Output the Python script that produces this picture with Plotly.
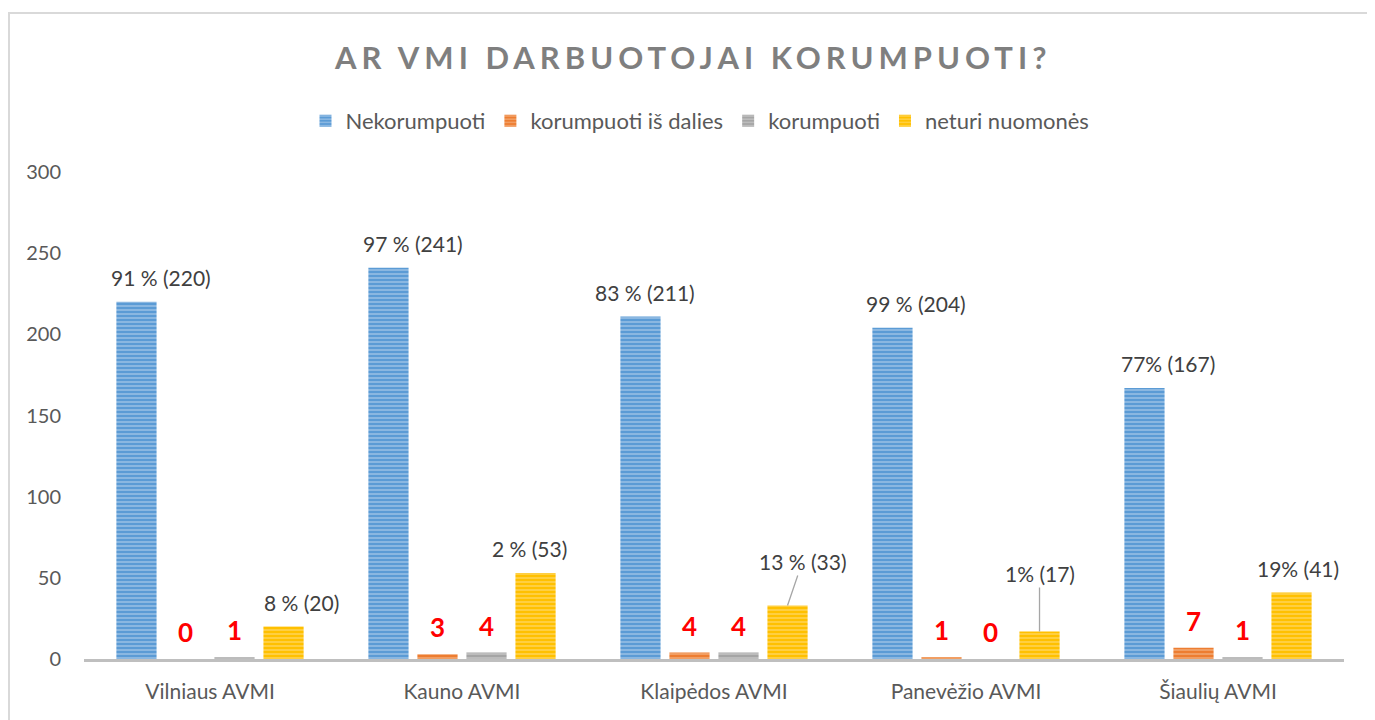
import plotly.graph_objects as go

# Duomenys
CATEGORIES = ["Vilniaus AVMI", "Kauno AVMI", "Klaipėdos AVMI", "Panevėžio AVMI", "Šiaulių AVMI"]
SERIES = ["Nekorumpuoti", "korumpuoti iš dalies", "korumpuoti", "neturi nuomonės"]
NEKORUMPUOTI = [220, 241, 211, 204, 167]
IS_DALIES = [0, 3, 4, 1, 7]
KORUMPUOTI = [1, 4, 4, 0, 1]
NETURI_NUOMONES = [20, 53, 33, 17, 41]
LABELS_BLUE = ["91 % (220)", "97 % (241)", "83 % (211)", "99 % (204)", "77% (167)"]
LABELS_YELLOW = ["8 % (20)", "2 % (53)", "13 % (33)", "1% (17)", "19% (41)"]

VALUES = [NEKORUMPUOTI, IS_DALIES, KORUMPUOTI, NETURI_NUOMONES]
COLORS = ["#5b9bd5", "#ed7d31", "#a5a5a5", "#ffc000"]
STRIPES = ["#cfe2f3", "#f9cfb0", "#e0e0e0", "#ffe8a3"]

FONT = "Lato"
TXT = "#595959"
BARGAP = 0.222

# the page body has an 8px margin, so the figure starts at (8, 8) on screen
OFF = 8
W, H = 1375 - OFF, 720 - OFF
# plot area in screen px (from the original)
L, R, T, B = 84, 1344, 172, 659


def px_x(p):
    return (p - L) / (R - L)


def px_y(p):
    return (B - p) / (B - T)


# label nudges in px (manually moved labels in the original)
BLUE_DX = [25, 25, 5, 24, 24]
YELLOW_DX = [18, -6, None, None, 6]
LEADER = {2: (15, -44), 3: (0, -58)}  # yellow labels with leader lines

fig = go.Figure()

for name, vals, col, stripe in zip(SERIES, VALUES, COLORS, STRIPES):
    fig.add_trace(
        go.Bar(
            name=name,
            x=CATEGORIES,
            y=vals,
            marker=dict(
                color=col,
                line=dict(width=0),
                pattern=dict(shape="-", fgcolor=stripe, bgcolor=col, size=4, solidity=0.4),
            ),
            hoverinfo="skip",
        )
    )

# slot offsets of each series within a category (category units)
group = 1 - BARGAP
slot = group / len(SERIES)
offsets = [-group / 2 + slot * (k + 0.5) for k in range(len(SERIES))]

ann = []
label_font = dict(family=FONT, size=21, color="#404040")
red_font = dict(family=FONT, size=26, color="#ff0000", weight="bold")

for i, cat in enumerate(CATEGORIES):
    # blue
    ann.append(dict(x=i + offsets[0], y=NEKORUMPUOTI[i], xref="x", yref="y", text=LABELS_BLUE[i],
                    showarrow=False, xshift=BLUE_DX[i], yshift=24, font=label_font))
    # red small values
    for k in (1, 2):
        ann.append(dict(x=i + offsets[k], y=VALUES[k][i], xref="x", yref="y", text=str(VALUES[k][i]),
                        showarrow=False, yshift=27, font=red_font))
    # yellow
    if i in LEADER:
        ax, ay = LEADER[i]
        ann.append(dict(x=i + offsets[3], y=NETURI_NUOMONES[i], xref="x", yref="y", text=LABELS_YELLOW[i],
                        showarrow=True, arrowhead=0, arrowwidth=1.3, arrowcolor="#a6a6a6",
                        ax=ax, ay=ay, standoff=0, font=label_font))
    else:
        ann.append(dict(x=i + offsets[3], y=NETURI_NUOMONES[i], xref="x", yref="y", text=LABELS_YELLOW[i],
                        showarrow=False, xshift=YELLOW_DX[i], yshift=24, font=label_font))

# title
ann.append(dict(
    x=px_x(692), y=px_y(57), xref="paper", yref="paper", xanchor="center", yanchor="middle",
    text="<span style='letter-spacing:5px'>AR VMI DARBUOTOJAI KORUMPUOTI?</span>",
    showarrow=False, font=dict(family=FONT, size=31, color="#7f7f7f", weight="bold"),
))

fig.update_layout(
    width=W,
    height=H,
    margin=dict(l=L - OFF, r=W - (R - OFF), t=T - OFF, b=H - (B - OFF), autoexpand=False),
    paper_bgcolor="white",
    plot_bgcolor="white",
    barmode="group",
    bargap=BARGAP,
    bargroupgap=0.18,
    font=dict(family=FONT, size=21, color=TXT),
    showlegend=True,
    legend=dict(
        orientation="h",
        x=px_x(700),
        xanchor="center",
        y=px_y(121),
        yanchor="middle",
        font=dict(family=FONT, size=22, color=TXT),
        itemwidth=30,
        traceorder="normal",
    ),
    xaxis=dict(
        showline=True,
        linecolor="#bfbfbf",
        linewidth=3,
        ticks="",
        showgrid=False,
        tickfont=dict(family=FONT, size=21, color=TXT),
        ticklabelstandoff=12,
        automargin=False,
        fixedrange=True,
    ),
    yaxis=dict(
        range=[0, 300],
        dtick=50,
        showgrid=False,
        zeroline=False,
        showline=False,
        ticks="",
        tickfont=dict(family=FONT, size=20, color=TXT),
        ticklabelstandoff=22,
        automargin=False,
        fixedrange=True,
    ),
    annotations=ann,
    shapes=[
        dict(type="rect", xref="paper", yref="paper",
             x0=px_x(9), x1=px_x(1373), y0=px_y(730), y1=px_y(13),
             line=dict(color="#d9d9d9", width=2), fillcolor="rgba(0,0,0,0)", layer="below"),
    ],
)

fig.write_html("out.html")
